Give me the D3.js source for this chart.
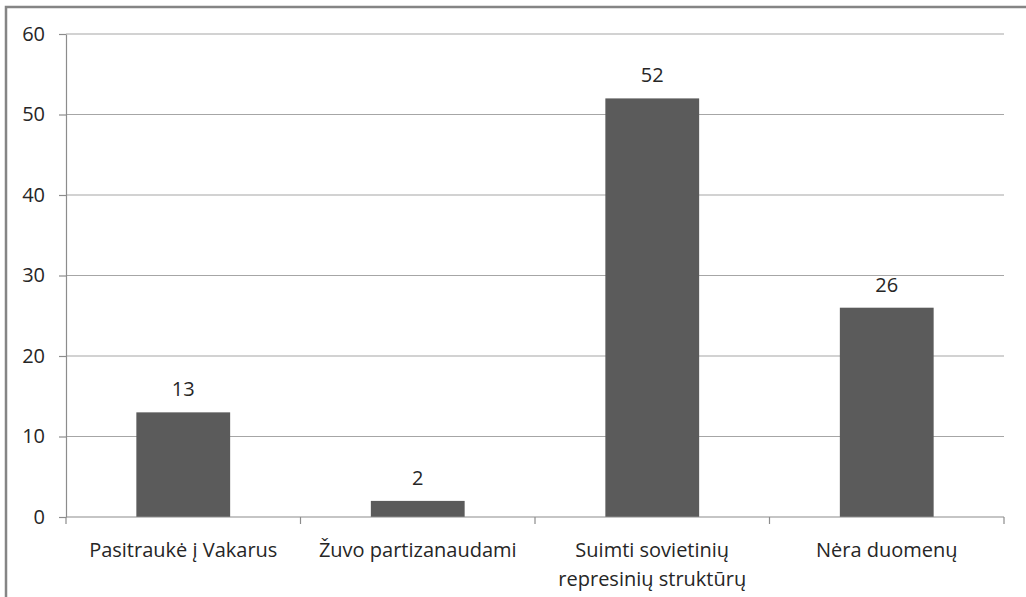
<!DOCTYPE html>
<meta charset="utf-8">
<style>
    body { margin: 0; background: #fff; }
    text { font-family: "Open Sans", "Noto Sans", sans-serif; fill: #262626; }
    .grid line { stroke: #a6a6a6; stroke-width: 1.2px; }
    .axis path, .axis line { stroke: #8c8c8c; stroke-width: 1.2px; }
</style>
<svg width="1026" height="597"></svg>
<script src="https://d3js.org/d3.v7.min.js"></script>
<script>
    // chart data
    var categories = [["Pasitraukė į Vakarus"], ["Žuvo partizanaudami"], ["Suimti sovietinių", "represinių struktūrų"], ["Nėra duomenų"]];
    var values = [13, 2, 52, 26];
    var yTicks = [0, 10, 20, 30, 40, 50, 60];

    var svg = d3.select("svg");
    var plotLeft = 66, plotRight = 1004, plotTop = 34, plotBottom = 517;
    var fontSize = "20px";

    // outer frame (only top and left edges show in the picture)
    svg.append("rect")
        .attr("x", 6).attr("y", 7)
        .attr("width", 1040).attr("height", 620)
        .attr("fill", "none")
        .attr("stroke", "#858585")
        .attr("stroke-width", 2.5);

    var x = d3.scaleBand()
        .domain(d3.range(categories.length))
        .range([plotLeft, plotRight])
        .paddingInner(0.6)
        .paddingOuter(0.3);

    var xOuter = d3.scaleBand()
        .domain(d3.range(categories.length))
        .range([plotLeft, plotRight]);

    var y = d3.scaleLinear()
        .domain([0, 60])
        .range([plotBottom, plotTop]);

    // gridlines
    svg.append("g")
        .attr("class", "grid")
        .selectAll("line")
        .data(yTicks.slice(1))
        .enter().append("line")
        .attr("x1", plotLeft).attr("x2", plotRight)
        .attr("y1", function(d) { return y(d); })
        .attr("y2", function(d) { return y(d); });

    // bars
    svg.append("g")
        .selectAll("rect")
        .data(values)
        .enter().append("rect")
        .attr("x", function(d, i) { return x(i); })
        .attr("width", x.bandwidth())
        .attr("y", function(d) { return y(d); })
        .attr("height", function(d) { return y(0) - y(d); })
        .attr("fill", "#5b5b5b");

    // value labels
    svg.append("g")
        .selectAll("text")
        .data(values)
        .enter().append("text")
        .attr("x", function(d, i) { return x(i) + x.bandwidth() / 2; })
        .attr("y", function(d) { return y(d) - 16; })
        .attr("text-anchor", "middle")
        .style("font-size", fontSize)
        .text(function(d) { return d; });

    // y axis
    var yAxis = svg.append("g")
        .attr("class", "axis")
        .attr("transform", "translate(" + plotLeft + ",0)")
        .call(d3.axisLeft(y).tickValues(yTicks).tickSize(7).tickPadding(14).tickSizeOuter(0));
    yAxis.selectAll("text").style("font-size", fontSize).attr("fill", "#262626");

    // x axis line with category boundary ticks
    var xAxis = svg.append("g").attr("class", "axis");
    xAxis.append("line")
        .attr("x1", plotLeft).attr("x2", plotRight)
        .attr("y1", plotBottom).attr("y2", plotBottom);
    xAxis.selectAll(".tk")
        .data(d3.range(categories.length + 1))
        .enter().append("line")
        .attr("class", "tk")
        .attr("x1", function(i) { return plotLeft + i * xOuter.bandwidth(); })
        .attr("x2", function(i) { return plotLeft + i * xOuter.bandwidth(); })
        .attr("y1", plotBottom).attr("y2", plotBottom + 7);

    // category labels
    var cat = svg.append("g")
        .selectAll("text")
        .data(categories)
        .enter().append("text")
        .attr("text-anchor", "middle")
        .attr("x", function(d, i) { return xOuter(i) + xOuter.bandwidth() / 2; })
        .attr("y", 557)
        .style("font-size", fontSize);
    cat.selectAll("tspan")
        .data(function(d) { return d; })
        .enter().append("tspan")
        .attr("x", function() { return d3.select(this.parentNode).attr("x"); })
        .attr("dy", function(d, i) { return i === 0 ? 0 : 29; })
        .text(function(d) { return d; });
</script>
